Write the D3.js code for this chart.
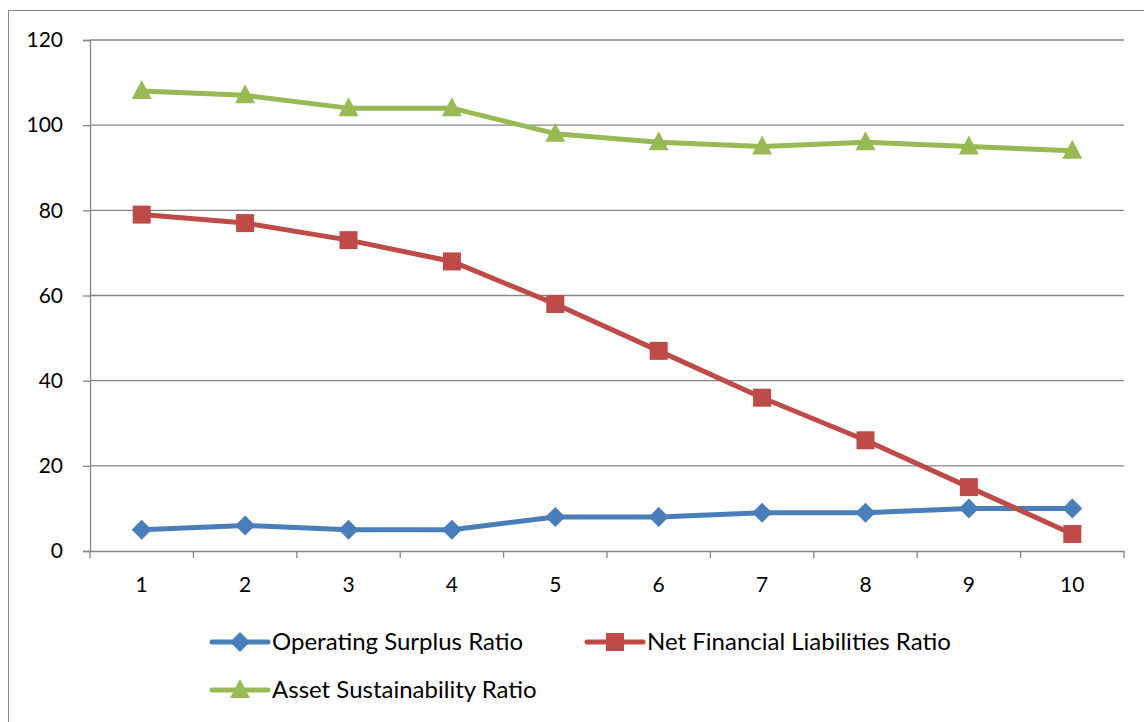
<!DOCTYPE html>
<html>
<head>
<meta charset="utf-8">
<script src="https://cdn.jsdelivr.net/npm/d3@7"></script>
<style>
  body { margin: 0; background: #fff; }
  svg { display: block; font-family: Lato, "Open Sans", sans-serif; }
</style>
</head>
<body>
<svg id="chart" width="1144" height="722"></svg>
<script>
const categories = ['1', '2', '3', '4', '5', '6', '7', '8', '9', '10'];
const operating_surplus = [5, 6, 5, 5, 8, 8, 9, 9, 10, 10];
const net_financial = [79, 77, 73, 68, 58, 47, 36, 26, 15, 4];
const asset_sustain = [108, 107, 104, 104, 98, 96, 95, 96, 95, 94];
const y_ticks = [0, 20, 40, 60, 80, 100, 120];

const series = [
  { name: 'Operating Surplus Ratio', values: operating_surplus, color: '#4A7EBB', marker: 'diamond' },
  { name: 'Net Financial Liabilities Ratio', values: net_financial, color: '#BE4B48', marker: 'square' },
  { name: 'Asset Sustainability Ratio', values: asset_sustain, color: '#98B954', marker: 'triangle' }
];

const svg = d3.select('#chart');
const plot_left = 90, plot_right = 1124, plot_top = 40, plot_bottom = 551;

// outer chart border
svg.append('rect')
  .attr('x', 8.5).attr('y', 10.5)
  .attr('width', 1150).attr('height', 730)
  .attr('fill', 'none').attr('stroke', '#868686').attr('stroke-width', 1);

const x = d3.scaleBand().domain(categories).range([plot_left, plot_right]);
const y = d3.scaleLinear().domain([0, 120]).range([plot_bottom, plot_top]);

// gridlines
svg.append('g')
  .selectAll('line')
  .data(y_ticks.filter(d => d > 0))
  .enter()
  .append('line')
  .attr('x1', plot_left).attr('x2', plot_right)
  .attr('y1', d => y(d)).attr('y2', d => y(d))
  .attr('stroke', '#868686').attr('stroke-width', 1.3);

// y axis
const y_axis = svg.append('g')
  .attr('transform', `translate(${plot_left},0)`)
  .call(d3.axisLeft(y).tickValues(y_ticks).tickSize(7).tickPadding(20));
y_axis.select('.domain').attr('stroke', '#868686').attr('stroke-width', 1.3);
y_axis.selectAll('.tick line').attr('stroke', '#868686').attr('stroke-width', 1.3);
y_axis.selectAll('.tick text').attr('font-size', 21).attr('fill', '#000').attr('font-family', 'Lato, sans-serif');

// x axis
const x_axis = svg.append('g')
  .attr('transform', `translate(0,${plot_bottom})`)
  .call(d3.axisBottom(x).tickSize(0).tickPadding(26));
x_axis.select('.domain').attr('stroke', '#868686').attr('stroke-width', 1.3);
x_axis.selectAll('.tick text').attr('font-size', 21).attr('fill', '#000').attr('font-family', 'Lato, sans-serif');

// minor ticks at band boundaries
svg.append('g')
  .selectAll('line')
  .data(categories.concat(['end']))
  .enter()
  .append('line')
  .attr('x1', (d, i) => plot_left + i * x.step())
  .attr('x2', (d, i) => plot_left + i * x.step())
  .attr('y1', plot_bottom).attr('y2', plot_bottom + 7)
  .attr('stroke', '#868686').attr('stroke-width', 1.3);

function draw_marker(sel, type, color) {
  if (type === 'diamond') {
    sel.append('path').attr('d', 'M0,-10L10,0L0,10L-10,0Z').attr('fill', color);
  } else if (type === 'square') {
    sel.append('rect').attr('x', -9).attr('y', -9).attr('width', 18).attr('height', 18).attr('fill', color);
  } else {
    sel.append('path').attr('d', 'M0,-11L10,8L-10,8Z').attr('fill', color);
  }
}

const line = d3.line()
  .x((d, i) => x(categories[i]) + x.bandwidth() / 2)
  .y(d => y(d));

series.forEach(s => {
  svg.append('path')
    .datum(s.values)
    .attr('d', line)
    .attr('fill', 'none')
    .attr('stroke', s.color)
    .attr('stroke-width', 5)
    .attr('stroke-linejoin', 'round');

  svg.append('g')
    .selectAll('g')
    .data(s.values)
    .enter()
    .append('g')
    .attr('transform', (d, i) => `translate(${x(categories[i]) + x.bandwidth() / 2},${y(d)})`)
    .each(function () { draw_marker(d3.select(this), s.marker, s.color); });
});

// Legend
const legend_pos = [[212, 642], [587, 642], [212, 690]];
series.forEach((s, i) => {
  const g = svg.append('g').attr('transform', `translate(${legend_pos[i][0]},${legend_pos[i][1]})`);
  g.append('line')
    .attr('x1', 0).attr('x2', 56)
    .attr('stroke', s.color).attr('stroke-width', 5).attr('stroke-linecap', 'round');
  const m = g.append('g').attr('transform', 'translate(28,0)');
  draw_marker(m, s.marker, s.color);
  g.append('text')
    .attr('x', 60).attr('y', 0).attr('dy', '0.35em')
    .attr('font-size', 24).attr('fill', '#000')
    .text(s.name);
});
</script>
</body>
</html>
